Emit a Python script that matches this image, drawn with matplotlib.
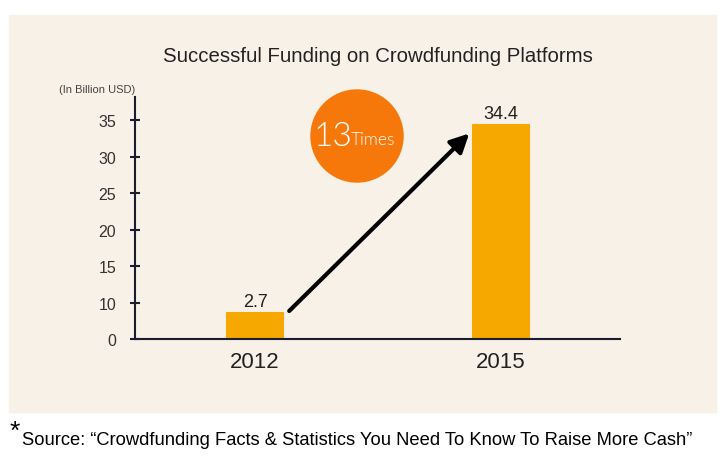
import matplotlib.pyplot as plt
import numpy as np
from matplotlib.patches import Rectangle, Ellipse

# Data
years = ["2012", "2015"]
funding = [2.7, 34.4]  # billion USD
y_ticks = [0, 10, 15, 20, 25, 30, 35]
growth = "13"

BAR = "#F6A800"
ORANGE = "#F6780A"
PANEL = "#F8F1E7"
AXIS = "#1c1c30"


# broken low segment: 0..10 squeezed into one tick step, like the original
def fwd(v):
    v = np.asarray(v, dtype=float)
    low = 5 * np.clip(v / 10, 0, None) ** 0.25
    return np.where(v < 10, low, v - 5)


def inv(u):
    u = np.asarray(u, dtype=float)
    low = 10 * (np.clip(u, 0, None) / 5) ** 4
    return np.where(u < 5, low, u + 5)


plt.rcParams["font.family"] = ["Liberation Sans", "DejaVu Sans"]

fig = plt.figure(figsize=(7.25, 4.6), dpi=100)
fig.patches.append(Rectangle((9 / 725, 1 - 413 / 460), 707 / 725, 397 / 460,
                             transform=fig.transFigure, color=PANEL, zorder=-5))

ax = fig.add_axes([135 / 725, 1 - 340 / 460, 485 / 725, 242 / 460])
ax.set_zorder(2)
ax.set_facecolor("none")
ax.set_yscale("function", functions=(fwd, inv))

x = np.arange(len(years))
w = 0.228
ax.bar(x, funding, width=w, color=BAR, edgecolor=BAR, linewidth=1.5,
       joinstyle="round", zorder=2)
for xi, v in zip(x, funding):
    ax.annotate(f"{v}", (xi, v), xytext=(0, 2), textcoords="offset points",
                ha="center", va="bottom", fontsize=13, color="#222222")

ax.annotate("", xy=(x[1] - w / 2 - 0.015, funding[1] - 1.2),
            xytext=(x[0] + w / 2 + 0.025, funding[0] + 0.8),
            arrowprops=dict(arrowstyle="-|>", lw=3, color="black",
                            mutation_scale=28, shrinkA=0, shrinkB=0), zorder=3)

ax.set_xlim(-0.488, 1.484)
ax.set_ylim(0, 38.2)
ax.set_yticks(y_ticks)
ax.set_yticklabels([str(t) for t in y_ticks])
ax.set_xticks(x)
ax.set_xticklabels(years)
ax.tick_params(axis="y", direction="inout", length=7, width=1.5, color=AXIS,
               pad=10, labelsize=11.5, labelcolor="#333333")
ax.tick_params(axis="x", length=0, pad=9, labelsize=16, labelcolor="#222222")
for s in ["top", "right"]:
    ax.spines[s].set_visible(False)
for s in ["left", "bottom"]:
    ax.spines[s].set_color(AXIS)
    ax.spines[s].set_linewidth(1.5)

fig.text(378 / 725, 1 - 57 / 460, "Successful Funding on Crowdfunding Platforms",
         ha="center", va="center", fontsize=14.7, color="#222222")
fig.text(97 / 725, 1 - 90 / 460, "(In Billion USD)", ha="center", va="center",
         fontsize=8, color="#444444")

# "13 Times" badge
fig.patches.append(Ellipse((357 / 725, 1 - 137 / 460), 92 / 725, 92 / 460,
                           transform=fig.transFigure, color=ORANGE, zorder=1))
fig.text(333 / 725, 1 - 137 / 460, growth, ha="center", va="center",
         fontsize=24, color="white", fontfamily="Lato", fontweight=300, zorder=4)
fig.text(373 / 725, 1 - 140 / 460, "Times", ha="center", va="center",
         fontsize=12.5, color="white", fontfamily="Lato", fontweight=300, zorder=4)

# source note
fig.text(10 / 725, 1 - 432 / 460, "*", ha="left", va="center", fontsize=19,
         color="black")
fig.text(22 / 725, 1 - 441 / 460,
         "Source: \u201cCrowdfunding Facts & Statistics You Need To Know To Raise More Cash\u201d",
         ha="left", va="center", fontsize=13.2, color="black")

fig.savefig("out.png", dpi=100, facecolor="white")
